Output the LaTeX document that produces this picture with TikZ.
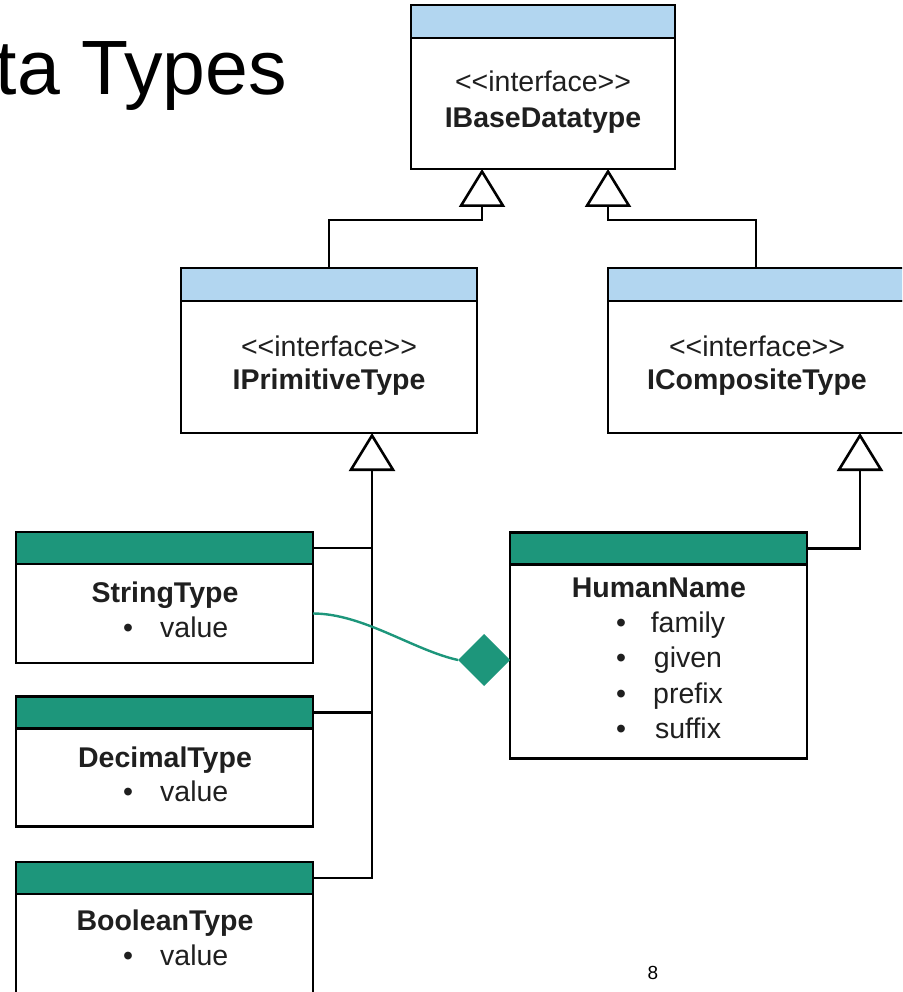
\documentclass[tikz,border=0pt]{standalone}
\usepackage{fontspec}
\setmainfont{Liberation Sans}
\usetikzlibrary{arrows.meta,shapes.geometric,calc}
\definecolor{hdrblue}{RGB}{178,214,240}
\definecolor{hdrteal}{RGB}{29,150,123}
\begin{document}
\begin{tikzpicture}[x=1pt,y=-1pt,
  box/.style={draw=black, line width=2.8pt, fill=white, inner sep=0pt, outer sep=0pt},
  ifhead/.style={box, fill=hdrblue, minimum height=33pt},
  clhead/.style={box, fill=hdrteal, minimum height=32pt},
  txt/.style={font=\fontsize{28.5pt}{34pt}\selectfont, inner sep=0pt, anchor=base, text=black!88},
  nametext/.style={txt, font=\fontsize{28.5pt}{34pt}\selectfont\bfseries},
  gen/.style={draw=black, line width=2.6pt, -{Triangle[open, length=38pt, width=46pt]}},
  branch/.style={draw=black, line width=2.6pt},
  assoc/.style={draw=hdrteal, line width=2.4pt},
]
\useasboundingbox (0,0) rectangle (902,992);
\clip (0,0) rectangle (902,992);

% title
\node[font=\fontsize{77pt}{90pt}\selectfont, inner sep=0pt, anchor=base east] (title) at (287,95) {Data Types};

% interfaces
\node[ifhead, minimum width=264pt] (ibaseH) at (543,21.5) {};
\node[box, minimum width=264pt, minimum height=131pt, anchor=north] (ibase) at (ibaseH.south) {};
\node[txt] (ibaseS) at (543,92) {<\kern0pt<interface>\kern0pt>};
\node[nametext] (ibaseN) at (543,128) {IBaseDatatype};

\node[ifhead, minimum width=296pt] (iprimH) at (329,284.5) {};
\node[box, minimum width=296pt, minimum height=132pt, anchor=north] (iprim) at (iprimH.south) {};
\node[txt] (iprimS) at (329,356) {<\kern0pt<interface>\kern0pt>};
\node[nametext] (iprimN) at (329,389) {IPrimitiveType};

\node[ifhead, minimum width=296pt] (icompH) at (756,284.5) {};
\node[box, minimum width=296pt, minimum height=132pt, anchor=north] (icomp) at (icompH.south) {};
\node[txt] (icompS) at (757,356) {<\kern0pt<interface>\kern0pt>};
\node[nametext] (icompN) at (757,389) {ICompositeType};

% primitive classes
\node[clhead, minimum width=297pt] (strH) at (164.5,548) {};
\node[box, minimum width=297pt, minimum height=99pt, anchor=north] (str) at (strH.south) {};
\node[nametext] (strN) at (165,602) {StringType};
\node[txt] (strB) at (128,637) {\textbullet};
\node[txt, anchor=base west] (strV) at (160,637) {value};

\node[clhead, minimum width=297pt] (decH) at (164.5,712.5) {};
\node[box, minimum width=297pt, minimum height=98pt, anchor=north] (dec) at (decH.south) {};
\node[nametext] (decN) at (165,767) {DecimalType};
\node[txt] (decB) at (128,801) {\textbullet};
\node[txt, anchor=base west] (decV) at (160,801) {value};

\node[clhead, minimum width=297pt] (boolH) at (164.5,878) {};
\node[box, minimum width=297pt, minimum height=110pt, anchor=north] (bool) at (boolH.south) {};
\node[nametext] (boolN) at (165,930) {BooleanType};
\node[txt] (boolB) at (128,965) {\textbullet};
\node[txt, anchor=base west] (boolV) at (160,965) {value};

% composite class
\node[clhead, minimum width=297pt] (hnH) at (658.5,548.5) {};
\node[box, minimum width=297pt, minimum height=194pt, anchor=north] (hn) at (hnH.south) {};
\node[nametext] (hnN) at (659,597) {HumanName};
\node[txt] (hnB1) at (621,632) {\textbullet};
\node[txt] (hnF1) at (688,632) {family};
\node[txt] (hnB2) at (621,667) {\textbullet};
\node[txt] (hnF2) at (688,667) {given};
\node[txt] (hnB3) at (621,703) {\textbullet};
\node[txt] (hnF3) at (688,703) {prefix};
\node[txt] (hnB4) at (621,738) {\textbullet};
\node[txt] (hnF4) at (688,738) {suffix};

% aggregation diamond
\node[diamond, fill=hdrteal, minimum width=52pt, minimum height=52pt, inner sep=0pt, outer sep=0pt, anchor=east] (agg) at (hn.west |- 0,660) {};

% generalisation connectors
\coordinate (baseL) at ($(ibase.south west)+(71,0)$);
\coordinate (baseR) at ($(ibase.south west)+(197,0)$);
\coordinate (trunk) at ($(iprim.south)+(43,0)$);
\coordinate (compT) at ($(icomp.south west)+(252,0)$);

\draw[gen] (iprimH.north) -- ++(0,-48) -| (baseL);
\draw[gen] (icompH.north) -- ++(0,-48) -| (baseR);
\draw[gen] (boolH.east) -| (trunk);
\draw[branch] (strH.east) -- (strH.east -| trunk);
\draw[branch] (decH.east) -- (decH.east -| trunk);
\draw[gen] (hnH.east) -| (compT);

% association from StringType to HumanName
\draw[assoc] (str.east) .. controls +(50,0) and +(-45,-10) .. (agg.west);

% page number
\node[font=\fontsize{19pt}{22pt}\selectfont, inner sep=0pt, anchor=base] (page) at (653,979) {8};
\end{tikzpicture}
\end{document}
